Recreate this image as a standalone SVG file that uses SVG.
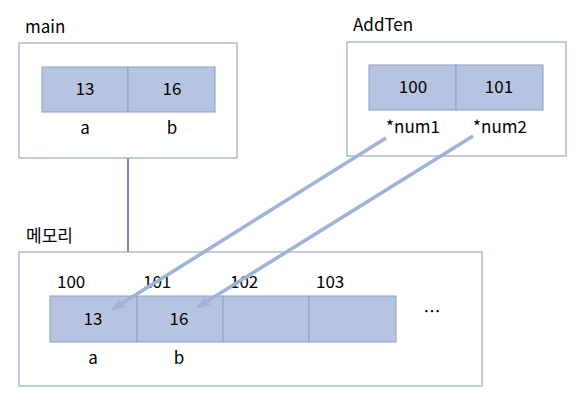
<svg xmlns="http://www.w3.org/2000/svg" width="583" height="401" viewBox="0 0 583 401">
<style>
.box{fill:#fff;stroke:#9aaac8;stroke-width:1.2}
.cell{fill:#b6c4e2;stroke:#8f9fbf;stroke-width:1}
text{font-family:"Noto Sans CJK KR","Noto Sans",sans-serif;font-size:17px;fill:#000}
.c{text-anchor:middle}
.arr{stroke:#9fb2d8;stroke-width:3.6;fill:none;marker-end:url(#ah)}
</style>
<defs>
<marker id="ah" markerUnits="userSpaceOnUse" markerWidth="14" markerHeight="11" refX="12" refY="5.5" orient="auto">
<path d="M0,0 L14,5.5 L0,11 L3.5,5.5 Z" fill="#9fb2d8"/>
</marker>
</defs>
<rect width="583" height="401" fill="#fff"/>
<g id="connectors">
<line x1="128" y1="158" x2="128" y2="252" stroke="#1f3f86" stroke-width="1.2"/>
</g>
<g id="main">
<text x="25" y="33">main</text>
<rect class="box" x="19" y="43" width="218" height="115"/>
<rect class="cell" x="42" y="67" width="86" height="45"/>
<rect class="cell" x="128" y="67" width="87" height="45"/>
<text class="c" x="85" y="95">13</text>
<text class="c" x="172" y="95">16</text>
<text class="c" x="85" y="134">a</text>
<text class="c" x="172" y="134">b</text>
</g>
<g id="addten">
<text x="353" y="31">AddTen</text>
<rect class="box" x="347" y="42" width="219" height="114"/>
<rect class="cell" x="369" y="65" width="87" height="45"/>
<rect class="cell" x="456" y="65" width="87" height="45"/>
<text class="c" x="413" y="93">100</text>
<text class="c" x="499" y="93">101</text>
<text class="c" x="413" y="133">*num1</text>
<text class="c" x="500" y="133">*num2</text>
</g>
<g id="memory">
<text x="26" y="242">메모리</text>
<rect class="box" x="19" y="252" width="463" height="134"/>
<rect class="cell" x="50" y="296" width="87" height="46"/>
<rect class="cell" x="137" y="296" width="86" height="46"/>
<rect class="cell" x="223" y="296" width="86" height="46"/>
<rect class="cell" x="309" y="296" width="87" height="46"/>
<text x="57" y="288">100</text>
<text x="143" y="288">101</text>
<text x="230" y="288">102</text>
<text x="316" y="288">103</text>
<text class="c" x="93" y="325">13</text>
<text class="c" x="179" y="325">16</text>
<text class="c" x="93" y="364">a</text>
<text class="c" x="179" y="364">b</text>
<text class="c" x="432" y="318">…</text>
</g>
<g id="arrows">
<line class="arr" x1="386" y1="138" x2="113" y2="309"/>
<line class="arr" x1="473" y1="136" x2="198" y2="307"/>
</g>
</svg>
